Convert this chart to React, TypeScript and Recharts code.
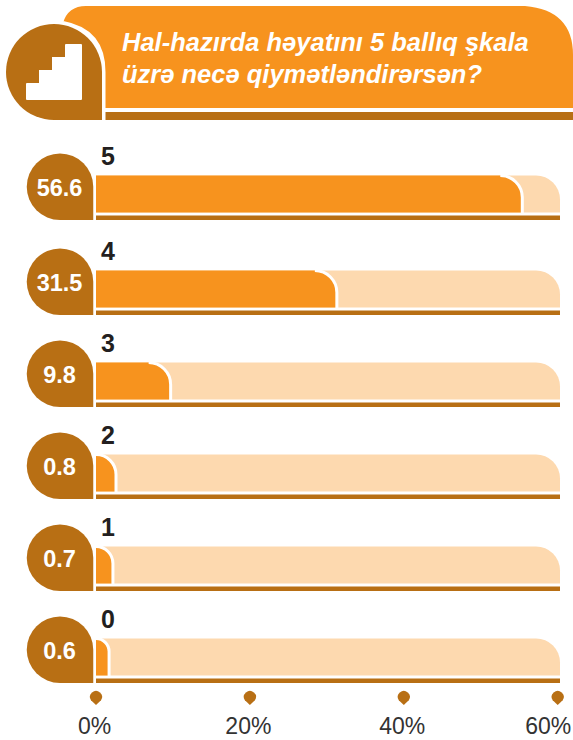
import { BarChart, Bar, XAxis, YAxis } from 'recharts';

const CATEGORIES = ['5', '4', '3', '2', '1', '0'];
// printed on the drops
const PRINTED_VALUES = ['56.6', '31.5', '9.8', '0.8', '0.7', '0.6'];
// bar lengths as drawn against the axis, small ones are drawn wider than their value
const DRAWN_VALUES = [55.4, 31.3, 9.7, 2.6, 2.2, 1.7];
const AXIS_TICKS = [0, 20, 40, 60];

const ORANGE = '#F7931E';
const BROWN = '#B86F14';
const PALE = '#FDD9AF';
const INK = '#231F20';
const FONT = '"Liberation Sans", Arial, sans-serif';

const chartData = CATEGORIES.map((name, i) => ({
  name,
  drawn: DRAWN_VALUES[i],
  printed: PRINTED_VALUES[i],
}));

// the top row sits a little higher than the even spacing of the rest
const rowNudge = (index: number) => (index === 0 ? -3 : 0);

function TrackShape(props: any) {
  const { x, y, width, height, index } = props;
  const top = y + rowNudge(index);
  const right = x + width;
  const bottom = top + height;
  const r = 24;
  const dropTop = top - 22;
  const dropBottom = bottom + 7.5;
  const dropR = (dropBottom - dropTop) / 2;
  const dropCx = 60;
  return (
    <g>
      <path d={`M${x} ${top} H${right - r} A${r} ${r} 0 0 1 ${right} ${top + r} V${bottom} H${x} Z`} fill={PALE} />
      <rect x={x} y={bottom + 3} width={width} height={4.5} fill={BROWN} />
      <path
        d={`M${dropCx + dropR} ${dropBottom} H${dropCx} A${dropR} ${dropR} 0 0 1 ${dropCx} ${dropTop} A${dropR} ${dropR} 0 0 1 ${dropCx + dropR} ${dropTop + dropR} Z`}
        fill={BROWN}
      />
      <text x={59.5} y={top + 20} textAnchor="middle" fontSize={23.5} fontWeight={700} fill="#fff" fontFamily={FONT}>
        {PRINTED_VALUES[index]}
      </text>
      <text x={101} y={top - 10.5} fontSize={25} fontWeight={700} fill={INK} fontFamily={FONT}>
        {CATEGORIES[index]}
      </text>
    </g>
  );
}

function FillShape(props: any) {
  const { x, y, width, height, index } = props;
  const top = y + rowNudge(index);
  const right = x + width;
  const bottom = top + height;
  const r = Math.min(width, 22);
  const d = `M${x} ${top} H${right - r} A${r} ${r} 0 0 1 ${right} ${top + r} V${bottom} H${x} Z`;
  return (
    <g>
      <path d={d} fill={ORANGE} />
      <path
        d={`M${right - r} ${top} A${r} ${r} 0 0 1 ${right} ${top + r} V${bottom + 1.5}`}
        fill="none"
        stroke="#fff"
        strokeWidth={3}
      />
    </g>
  );
}

function AxisTick(props: any) {
  const { x, y, payload, index } = props;
  const cy = y - 5.5;
  // the last label is pulled in so that it stays on the page
  const labelX = index === AXIS_TICKS.length - 1 ? x - 9.5 : x - 1.5;
  return (
    <g>
      <path
        d={`M${x} ${cy + 8} L${x - 5} ${cy + 3.3} A6 6 0 1 1 ${x + 5} ${cy + 3.3} Z`}
        fill={BROWN}
      />
      <text x={labelX} y={y + 31} textAnchor="middle" fontSize={23} fill="#333" fontFamily={FONT}>
        {payload.value}%
      </text>
    </g>
  );
}

function Header() {
  return (
    <svg width={573} height={125} style={{ position: 'absolute', left: 0, top: 0 }}>
      <path d="M63 23 Q68 6 86 6 H525 Q573 10 573 55 V108 H104 V70 Q102 30 63 23 Z" fill={ORANGE} />
      <rect x={105} y={112} width={468} height={8} fill={BROWN} />
      <path d="M102 120 H54 A48 48 0 0 1 54 24 A48 48 0 0 1 102 72 Z" fill={BROWN} />
      <path d="M63 22.5 Q104 30 104 72 V120" fill="none" stroke="#fff" strokeWidth={3} />
      <path
        d="M66 44 H81 Q82 44 82 45 V99 Q82 100 81 100 H27 Q26 100 26 99 V84 Q26 83 27 83 H39 V70 H52 V57 H65 V45 Q65 44 66 44 Z"
        fill="#fff"
      />
      <text x={122} y={51} fontSize={25.5} fontWeight={700} fontStyle="italic" fill="#fff" fontFamily={FONT}>
        Hal-hazırda həyatını 5 ballıq şkala
      </text>
      <text x={122} y={83} fontSize={25.5} fontWeight={700} fontStyle="italic" fill="#fff" fontFamily={FONT}>
        üzrə necə qiymətləndirərsən?
      </text>
    </svg>
  );
}

export default function App() {
  return (
    <div style={{ position: 'absolute', left: 0, top: 0, width: 573, height: 740 }}>
      <Header />
      <BarChart
        width={573}
        height={740}
        data={chartData}
        layout="vertical"
        margin={{ top: 150.5, right: 13, bottom: 0.5, left: 96 }}
        barSize={37}
      >
        <XAxis
          type="number"
          domain={[0, 60.3]}
          ticks={AXIS_TICKS}
          allowDataOverflow
          axisLine={false}
          tickLine={false}
          tickSize={0}
          tickMargin={0}
          height={37}
          interval={0}
          tick={AxisTick}
        />
        <YAxis type="category" dataKey="name" hide />
        <Bar dataKey="drawn" shape={FillShape} background={TrackShape} isAnimationActive={false} />
      </BarChart>
    </div>
  );
}
